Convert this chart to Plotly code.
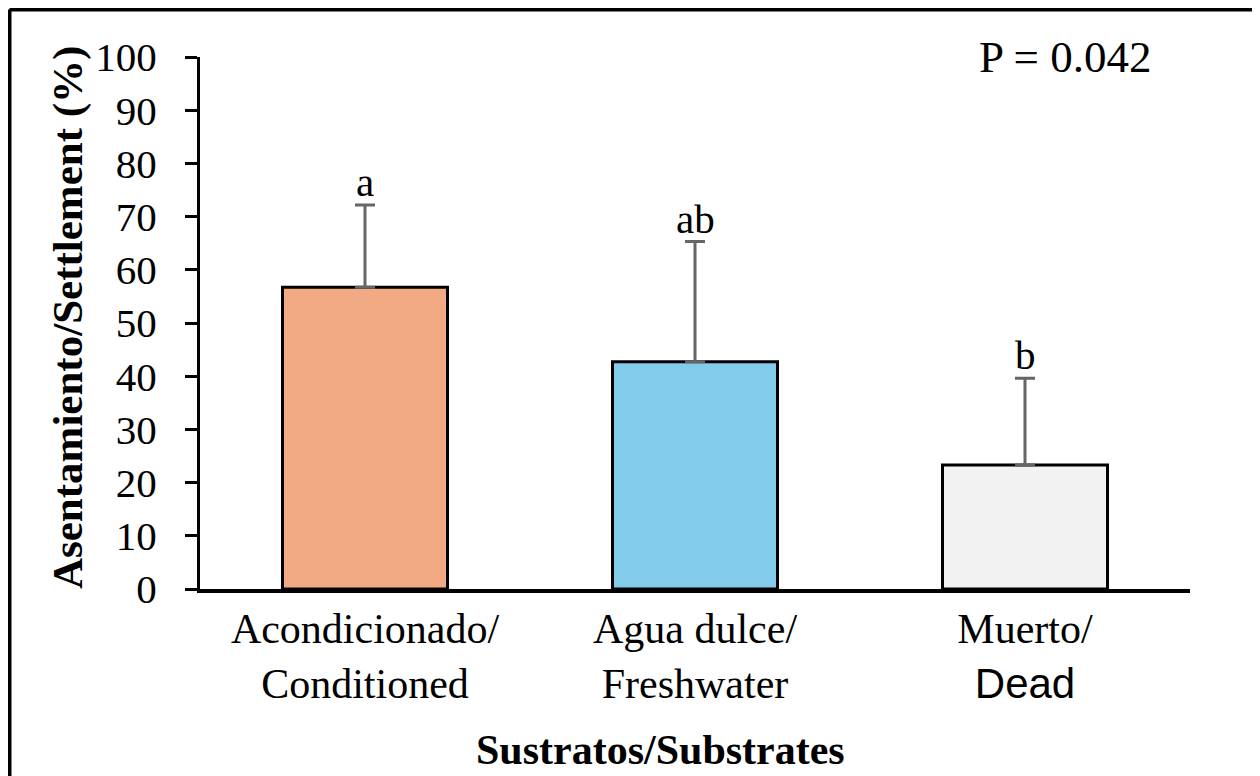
import plotly.graph_objects as go

categories = ["Acondicionado/<br>Conditioned", "Agua dulce/<br>Freshwater",
              "Muerto/<br><span style='font-family:Liberation Sans, Arial, sans-serif'>Dead</span>"]
settlement = [56.7, 42.7, 23.3]
error_plus = [15.5, 22.6, 16.3]
letters = ["a", "ab", "b"]
bar_colors = ["#F2AA84", "#83CBEB", "#F2F2F2"]
y_ticks = [0, 10, 20, 30, 40, 50, 60, 70, 80, 90, 100]
p_label = "P = 0.042"

SERIF = "Liberation Serif, Times New Roman, serif"

fig = go.Figure()
fig.add_trace(go.Bar(
    x=categories, y=settlement,
    marker=dict(color=bar_colors, line=dict(color="black", width=3)),
    error_y=dict(type="data", array=error_plus, arrayminus=[0, 0, 0], symmetric=False,
                 color="#666666", thickness=3, width=10),
    showlegend=False,
))

for c, v, e, t in zip(categories, settlement, error_plus, letters):
    fig.add_annotation(x=c, y=v + e, text=t, showarrow=False, yanchor="bottom",
                       font=dict(family=SERIF, size=41, color="black"), yshift=-2)

OFF = 8  # page body margin offset
W, H = 1260, 776
# plot area in window pixels
X0, X1, Y0, Y1 = 200, 1190, 57, 589
L = X0 - OFF
T = Y0 - OFF
R = W - (X1 - OFF)
B = H - (Y1 - OFF)
pw, ph = X1 - X0, Y1 - Y0

def px(xw):
    return (xw - X0) / pw

def py(yw):
    return (Y1 - yw) / ph

fig.add_annotation(xref="paper", yref="paper", x=px(1065), y=py(57), text=p_label,
                   showarrow=False, xanchor="center", yanchor="middle",
                   font=dict(family=SERIF, size=45, color="black"))
fig.add_annotation(xref="paper", yref="paper", x=px(68), y=py(318),
                   text="<b>Asentamiento/Settlement (%)</b>", textangle=-90,
                   showarrow=False, xanchor="center", yanchor="middle",
                   font=dict(family=SERIF, size=43, color="black"))
fig.add_annotation(xref="paper", yref="paper", x=px(660), y=py(750),
                   text="<b>Sustratos/Substrates</b>",
                   showarrow=False, xanchor="center", yanchor="middle",
                   font=dict(family=SERIF, size=42, color="black"))

# outer frame (left and top edges)
fig.add_shape(type="line", xref="paper", yref="paper", x0=px(9.5), x1=px(9.5),
              y0=py(9.5), y1=py(800), line=dict(color="black", width=4))
fig.add_shape(type="line", xref="paper", yref="paper", x0=px(9.5), x1=px(1290),
              y0=py(9.5), y1=py(9.5), line=dict(color="black", width=4))

fig.update_layout(
    width=W, height=H,
    margin=dict(l=L, r=R, t=T, b=B),
    paper_bgcolor="white", plot_bgcolor="white",
    bargap=0.5,
    font=dict(family=SERIF, size=40, color="black"),
    xaxis=dict(showline=True, linecolor="black", linewidth=4, ticks="",
               tickfont=dict(family=SERIF, size=42, color="black"),
               showgrid=False, zeroline=False, fixedrange=True),
    yaxis=dict(range=[0, 100], tickvals=y_ticks, showline=True, linecolor="black",
               linewidth=3, ticks="outside", ticklen=12, tickwidth=3, tickcolor="black",
               ticklabelstandoff=20,
               tickfont=dict(family=SERIF, size=41, color="black"),
               showgrid=False, zeroline=False, fixedrange=True),
)

fig.write_html("out.html")
